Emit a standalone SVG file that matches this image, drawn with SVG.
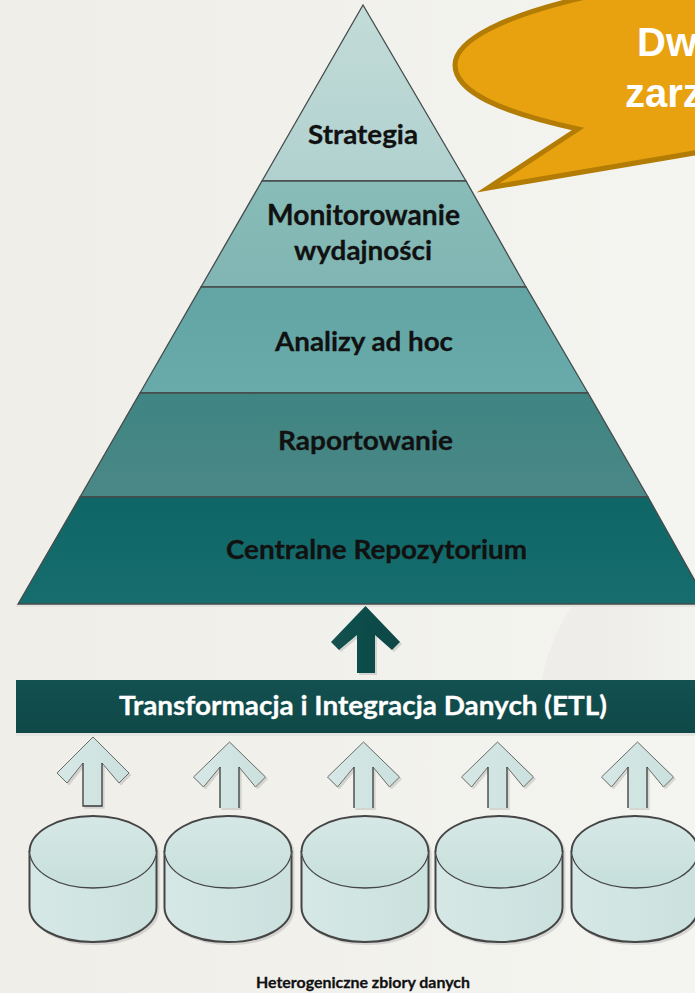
<svg xmlns="http://www.w3.org/2000/svg" width="695" height="993" viewBox="0 0 695 993">
<defs>
<linearGradient id="bg" x1="0" y1="0" x2="1" y2="0"><stop offset="0" stop-color="#efeee9"/><stop offset="1" stop-color="#f4f4f0"/></linearGradient>
<linearGradient id="sw" x1="0" y1="0" x2="1" y2="0"><stop offset="0" stop-color="#eeede9"/><stop offset="0.5" stop-color="#efeeea"/><stop offset="1" stop-color="#f2f2ee"/></linearGradient>
<linearGradient id="g1" x1="0" y1="0" x2="0" y2="1"><stop offset="0" stop-color="#c3dcd8"/><stop offset="1" stop-color="#b0d1cf"/></linearGradient>
<linearGradient id="g2" x1="0" y1="0" x2="0" y2="1"><stop offset="0" stop-color="#88bcb8"/><stop offset="1" stop-color="#80b5b3"/></linearGradient>
<linearGradient id="g3" x1="0" y1="0" x2="0" y2="1"><stop offset="0" stop-color="#62a5a4"/><stop offset="1" stop-color="#68abaa"/></linearGradient>
<linearGradient id="g4" x1="0" y1="0" x2="0" y2="1"><stop offset="0" stop-color="#3f8583"/><stop offset="1" stop-color="#4a8886"/></linearGradient>
<linearGradient id="g5" x1="0" y1="0" x2="0" y2="1"><stop offset="0" stop-color="#0f6666"/><stop offset="1" stop-color="#176d6d"/></linearGradient>
<linearGradient id="bar" x1="0" y1="0" x2="0" y2="1"><stop offset="0" stop-color="#135050"/><stop offset="1" stop-color="#0f4847"/></linearGradient>
<linearGradient id="big" x1="0" y1="0" x2="1" y2="0"><stop offset="0" stop-color="#12524f"/><stop offset="1" stop-color="#0f4645"/></linearGradient>
<linearGradient id="lt" x1="0" y1="0" x2="1" y2="0"><stop offset="0" stop-color="#d6e8e6"/><stop offset="1" stop-color="#cbe1de"/></linearGradient>
<linearGradient id="lv" x1="0" y1="0" x2="0" y2="1"><stop offset="0" stop-color="#d6e8e6"/><stop offset="1" stop-color="#c6dfdb"/></linearGradient>
<filter id="sh" x="-10%" y="-10%" width="125%" height="125%"><feDropShadow dx="2" dy="2" stdDeviation="0.6" flood-color="#000" flood-opacity="0.12"/></filter>
<g id="cyl" filter="url(#sh)">
<path class="s" d="M0 36V91C0 111 28 126 63.500 126S127 111 127 91V36Z" fill="url(#lt)"/>
<path d="M0 36C0 16 28 0 63.500 0S127 16 127 36S99 72 63.500 72S0 56 0 36Z" fill="url(#lv)"/>
<path class="s" d="M0 36C0 16 28 0 63.500 0S127 16 127 36" fill="none"/>
<path class="s3" d="M0 36C2 56 28 72 63.500 72S125 56 127 36" fill="none"/>
</g>
<g id="arr" filter="url(#sh)">
<path d="M-9.500 66V25L-26 45L-36 35L0 0L36 35L26 45L9.500 25V66Z" fill="url(#lt)"/>
<path class="a" d="M-9.500 25L-26 45L-36 35L0 0L36 35L26 45L9.500 25" fill="none"/>
<path class="a2" d="M-9.500 25V66M9.500 25V66" fill="none"/>
</g>
</defs>
<style>
.s{stroke:#454545;stroke-width:2}
.s3{stroke:#454545;stroke-width:1.300}
.a{stroke:#6a6a6a;stroke-width:1}
.a2{stroke:#3a3a3a;stroke-width:1.300}
.p{stroke:#454b4b;stroke-width:1.300}
text{font-family:"Lato","Open Sans","Liberation Sans",sans-serif;font-weight:700;text-anchor:middle;fill:#111;stroke:#111;stroke-width:0.3}
.w{fill:#fff;stroke:#fff}
.c{font-family:"Liberation Sans",Arial,sans-serif;text-anchor:start;fill:#fff;stroke:none}
</style>
<rect width="695" height="993" fill="url(#bg)"/>
<path d="M572 606C556 630 546 655 542 680H695V606Z" fill="url(#sw)"/>
<rect x="16" y="604" width="680" height="3" fill="#e3e3e0"/>
<g id="pyramid">
<g id="level-strategia"><path class="p" d="M363 5L466 181H262Z" fill="url(#g1)"/><text x="363" y="144" font-size="27" textLength="110" lengthAdjust="spacingAndGlyphs">Strategia</text></g>
<g id="level-monitorowanie"><path class="p" d="M262 181H466L526 287H201Z" fill="url(#g2)"/><text x="363.500" y="225" font-size="28" textLength="193" lengthAdjust="spacingAndGlyphs">Monitorowanie</text><text x="363" y="260" font-size="26" textLength="138" lengthAdjust="spacingAndGlyphs">wydajności</text></g>
<g id="level-analizy"><path class="p" d="M201 287H526L588 393H140Z" fill="url(#g3)"/><text x="364" y="351" font-size="27" textLength="178" lengthAdjust="spacingAndGlyphs">Analizy ad hoc</text></g>
<g id="level-raportowanie"><path class="p" d="M140 393H588L648 497H80Z" fill="url(#g4)"/><text x="365.500" y="450" font-size="27" textLength="175" lengthAdjust="spacingAndGlyphs">Raportowanie</text></g>
<g id="level-repozytorium"><path class="p" d="M80 497H648L708 604H18Z" fill="url(#g5)"/><text x="376.500" y="559" font-size="27" textLength="301" lengthAdjust="spacingAndGlyphs">Centralne Repozytorium</text></g>
</g>
<g id="callout"><path d="M700 152L488 188L578 129C500 112 455 92 455 65C455 40 505 15 590 -4H700Z" fill="#e9a20f" stroke="#b27c05" stroke-width="5" stroke-miterlimit="20"/>
<text class="c" x="637" y="56" font-size="40">Dw</text>
<text class="c" x="625" y="107" font-size="40">zarz</text></g>
<g id="connectors">
<path filter="url(#sh)" d="M365.500 606L400 642L392 650L375 635V673H357V635L339 650L331 642Z" fill="url(#big)"/>
<g filter="url(#sh)"><path d="M83 806V763L67 783L57 773L93 737L129 773L119 783L102 763V806Z" fill="url(#lt)"/><path class="a" d="M83 763L67 783L57 773L93 737L129 773L119 783L102 763" fill="none"/><path class="a2" d="M83 763V806H102V763" fill="none"/></g>
<use href="#arr" x="229.500" y="742"/>
<use href="#arr" x="363.500" y="742"/>
<use href="#arr" x="497.500" y="742"/>
<use href="#arr" x="637.500" y="742"/>
</g>
<rect x="16" y="733" width="680" height="3" fill="#e3e3e0"/>
<g id="etl"><rect x="16" y="680" width="680" height="53" fill="url(#bar)"/><text class="w" x="363" y="715" font-size="27" textLength="488" lengthAdjust="spacingAndGlyphs">Transformacja i Integracja Danych (ETL)</text></g>
<g id="db1"><use href="#cyl" x="29.500" y="816"/></g>
<g id="db2"><use href="#cyl" x="164.500" y="816"/></g>
<g id="db3"><use href="#cyl" x="301.500" y="816"/></g>
<g id="db4"><use href="#cyl" x="435.500" y="816"/></g>
<g id="db5"><use href="#cyl" x="571.500" y="816"/></g>
<text x="363" y="988" font-size="16" textLength="214" lengthAdjust="spacingAndGlyphs">Heterogeniczne zbiory danych</text>
</svg>
